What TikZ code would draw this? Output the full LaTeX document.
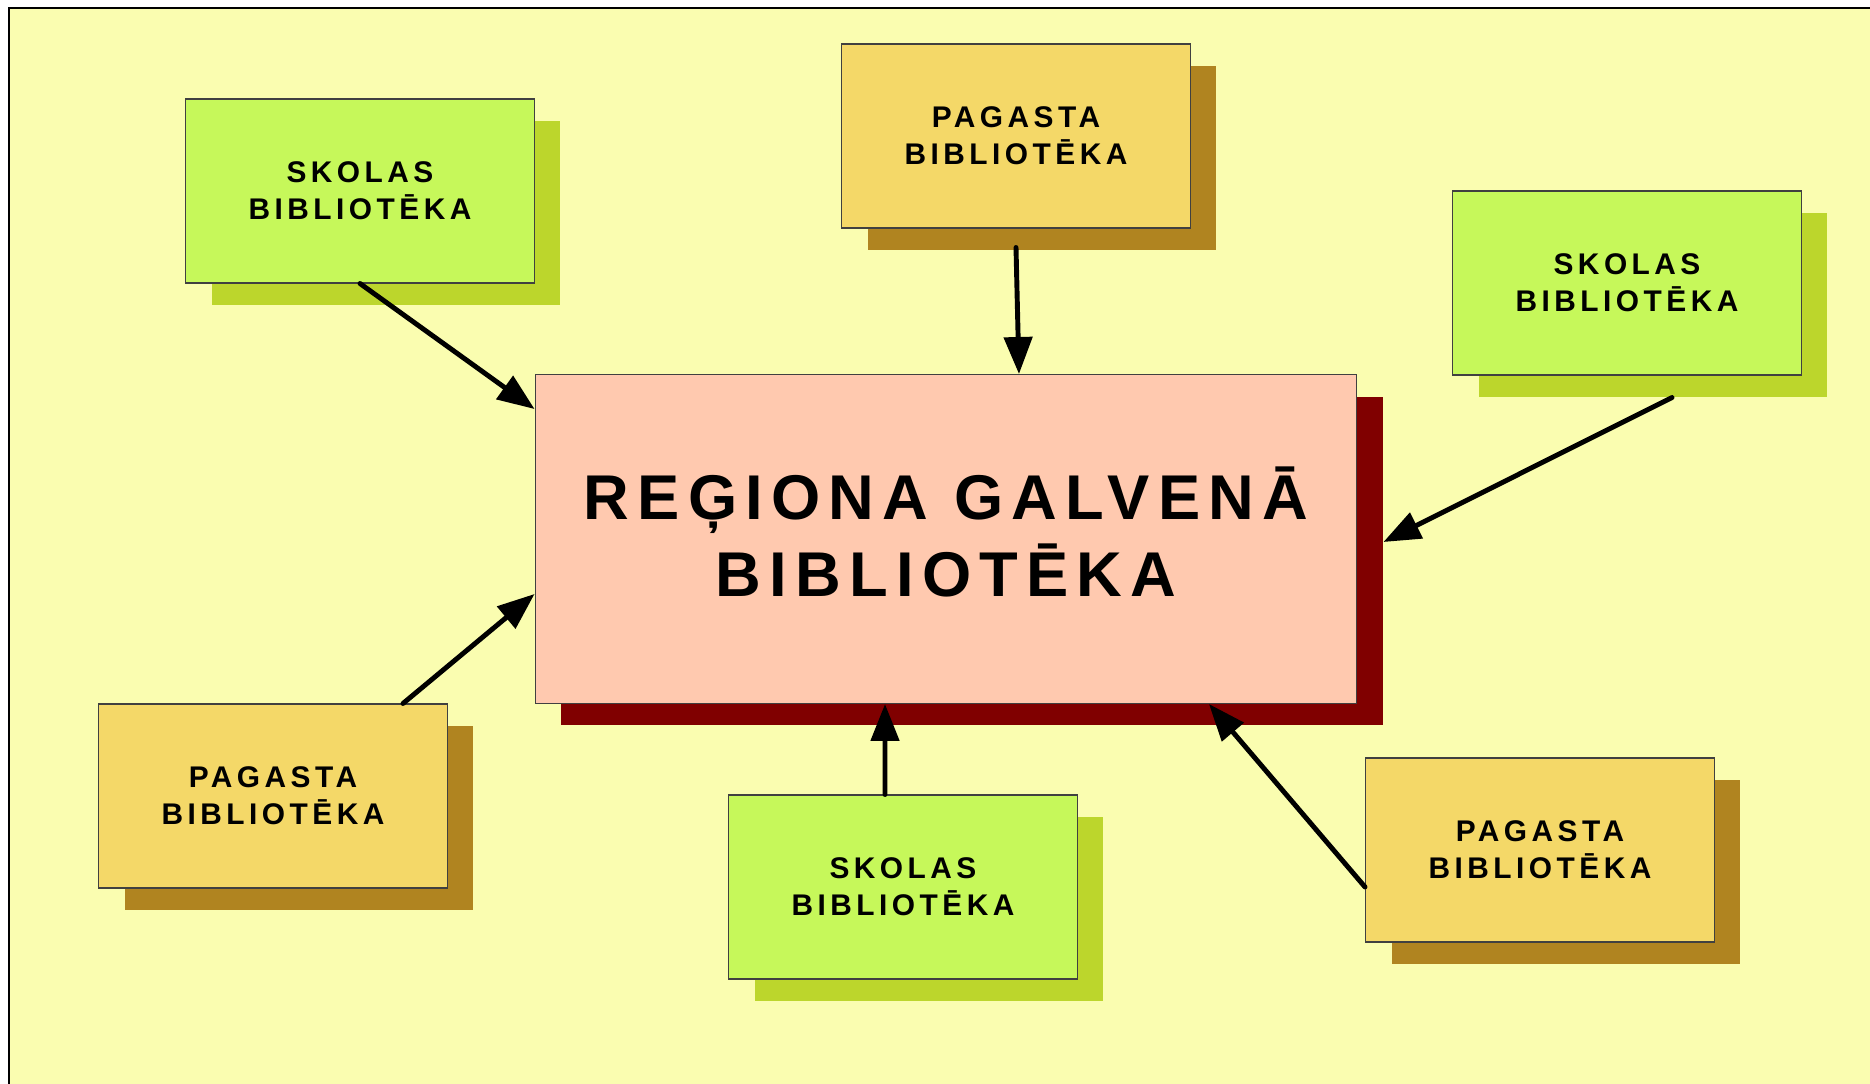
\documentclass[tikz,border=0pt]{standalone}
\usepackage{fontspec}
\setmainfont{Liberation Sans}
\newfontfamily\boxfont[LetterSpace=15]{Liberation Sans}
\newfontfamily\bigboxfont[LetterSpace=13]{Liberation Sans}
\usetikzlibrary{arrows.meta,shadows}

% Define colours
\definecolor{bgyellow}{RGB}{250,253,176}
\definecolor{schoolgreen}{RGB}{198,248,90}
\definecolor{schoolshadow}{RGB}{188,214,44}
\definecolor{parishgold}{RGB}{244,216,104}
\definecolor{parishshadow}{RGB}{176,132,32}
\definecolor{mainpink}{RGB}{255,201,175}
\definecolor{mainshadow}{RGB}{128,0,0}

\begin{document}
\begin{tikzpicture}[x=0.02cm,y=-0.02cm,
    libbox/.style={draw=black!75, line width=0.6pt, minimum width=6.98cm, minimum height=3.68cm,
        inner sep=0pt, align=center, font=\boxfont\bfseries\fontsize{17}{21}\selectfont},
    skolas/.style={libbox, fill=schoolgreen,
        drop shadow={shadow xshift=0.52cm, shadow yshift=-0.44cm, fill=schoolshadow, draw=none, opacity=1}},
    pagasta/.style={libbox, fill=parishgold,
        drop shadow={shadow xshift=0.52cm, shadow yshift=-0.44cm, fill=parishshadow, draw=none, opacity=1}},
    mainbox/.style={libbox, fill=mainpink, minimum width=16.44cm, minimum height=6.58cm,
        text depth=0.3cm, font=\bigboxfont\bfseries\fontsize{36}{44}\selectfont,
        drop shadow={shadow xshift=0.52cm, shadow yshift=-0.44cm, fill=mainshadow, draw=none, opacity=1}},
    link/.style={line width=2.8pt, line cap=round, -{Triangle[length=0.74cm,width=0.56cm]}}
]
    % Define page and background
    \useasboundingbox (0,0) rectangle (1870,1084);
    \fill[bgyellow] (9,8) rectangle (1870,1084);
    \draw[line width=0.6pt] (9,1084) -- (9,8) -- (1870,8);

    % Define central library
    \node[mainbox] (main) at (946,539) {REĢIONA GALVENĀ\\BIBLIOTĒKA};

    % Define the six local libraries
    \foreach \name/\kind/\x/\y/\word in
    {
        skolasA/skolas/360/191/SKOLAS,
        pagastaA/pagasta/1016/136/PAGASTA,
        skolasB/skolas/1627/283/SKOLAS,
        pagastaB/pagasta/273/796/PAGASTA,
        skolasC/skolas/903/887/SKOLAS,
        pagastaC/pagasta/1540/850/PAGASTA
    } {
    \node[\kind] (\name) at (\x,\y) {\word\\BIBLIOTĒKA};
    }

    % Define arrows to the central library
    \draw[link] (skolasA.south) -- ([yshift=2.6cm]main.west);
    \draw[link] ([yshift=-0.38cm]pagastaA.south) -- ([xshift=1.46cm]main.north);
    \draw[link] ([xshift=0.9cm,yshift=-0.44cm]skolasB.south) -- ([xshift=0.52cm,yshift=-0.06cm]main.east);
    \draw[link] ([xshift=2.6cm]pagastaB.north) -- ([yshift=-1.1cm]main.west);
    \draw[link] ([xshift=-0.36cm]skolasC.north) -- ([xshift=-1.22cm]main.south);
    \draw[link] ([yshift=-0.74cm]pagastaC.west) -- ([xshift=5.26cm]main.south);
\end{tikzpicture}
\end{document}
